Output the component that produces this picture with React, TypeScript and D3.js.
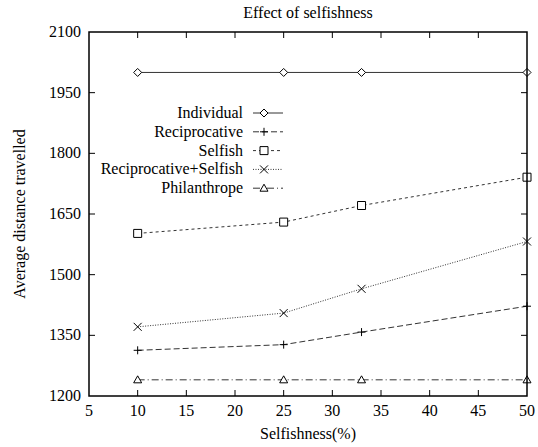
import * as d3 from "d3";

const xValues = [10, 25, 33, 50];
const seriesNames = ["Individual", "Reciprocative", "Selfish", "Reciprocative+Selfish", "Philanthrope"];
const individual = [2000, 2000, 2000, 2000];
const reciprocative = [1313, 1327, 1358, 1422];
const selfish = [1602, 1630, 1671, 1741];
const recipSelfish = [1371, 1405, 1465, 1582];
const philanthrope = [1240, 1240, 1240, 1240];
const xTicks = [5, 10, 15, 20, 25, 30, 35, 40, 45, 50];
const yTicks = [1200, 1350, 1500, 1650, 1800, 1950, 2100];

const width = 538;
const height = 447;
const M = { top: 32, right: 11, bottom: 51, left: 89 };
const font = "Liberation Serif";
const lineColor = "#333";

const x = d3.scaleLinear().domain([5, 50]).range([M.left, width - M.right]);
const y = d3.scaleLinear().domain([1200, 2100]).range([height - M.bottom, M.top]);

const series = [
  { name: seriesNames[0], values: individual, dash: undefined, marker: "diamond" },
  { name: seriesNames[1], values: reciprocative, dash: "6,3", marker: "plus" },
  { name: seriesNames[2], values: selfish, dash: "3,3", marker: "square" },
  { name: seriesNames[3], values: recipSelfish, dash: "1,1.5", marker: "cross" },
  { name: seriesNames[4], values: philanthrope, dash: "7,3,1,3", marker: "triangle" },
];

const line = d3.line<number>()
  .x((d, i) => x(xValues[i]))
  .y(d => y(d));

function Marker({ type, cx, cy }: { type: string; cx: number; cy: number }) {
  const s = 4;
  let d = "";
  if (type === "diamond") d = `M${cx},${cy - s}L${cx + s},${cy}L${cx},${cy + s}L${cx - s},${cy}Z`;
  else if (type === "plus") d = `M${cx - s},${cy}H${cx + s}M${cx},${cy - s}V${cy + s}`;
  else if (type === "square") d = `M${cx - s},${cy - s}H${cx + s}V${cy + s}H${cx - s}Z`;
  else if (type === "cross") d = `M${cx - s},${cy - s}L${cx + s},${cy + s}M${cx + s},${cy - s}L${cx - s},${cy + s}`;
  else if (type === "triangle") d = `M${cx},${cy - s}L${cx + s},${cy + s * 0.75}L${cx - s},${cy + s * 0.75}Z`;
  const open = type === "plus" || type === "cross";
  return <path d={d} fill={open ? "none" : "#fff"} stroke="#000" strokeWidth={1} />;
}

export default function App() {
  const tickLen = 6;
  const cx = (M.left + width - M.right) / 2;
  const ts = { fontFamily: font, fontSize: "16px" };
  return (
    <svg width={width} height={height}
      style={{ position: "absolute", left: 0, top: 0, background: "#fff", fontFamily: font, fontSize: "16px" }}>
      {series.map(s => (
        <g key={s.name}>
          <path d={line(s.values) || ""} fill="none" stroke={lineColor} strokeWidth={1} strokeDasharray={s.dash} />
          {s.values.map((v, i) => <Marker key={i} type={s.marker} cx={x(xValues[i])} cy={y(v)} />)}
        </g>
      ))}

      <rect x={M.left} y={M.top} width={width - M.left - M.right} height={height - M.top - M.bottom}
        fill="none" stroke="#000" strokeWidth={1.5} />

      <g stroke="#000" strokeWidth={1}>
        {xTicks.slice(1, -1).map(t => (
          <g key={t}>
            <line x1={x(t)} x2={x(t)} y1={y(1200)} y2={y(1200) - tickLen} />
            <line x1={x(t)} x2={x(t)} y1={y(2100)} y2={y(2100) + tickLen} />
          </g>
        ))}
        {yTicks.slice(1, -1).map(t => (
          <g key={t}>
            <line x1={x(5)} x2={x(5) + tickLen} y1={y(t)} y2={y(t)} />
            <line x1={x(50)} x2={x(50) - tickLen} y1={y(t)} y2={y(t)} />
          </g>
        ))}
      </g>

      {xTicks.map(t => (
        <text key={t} style={ts} x={x(t)} y={y(1200) + 20} textAnchor="middle">{t}</text>
      ))}
      {yTicks.map(t => (
        <text key={t} style={ts} x={M.left - 8} y={y(t) + 5} textAnchor="end">{t}</text>
      ))}

      <text style={ts} x={cx} y={439} textAnchor="middle">Selfishness(%)</text>
      <text style={ts} x={cx} y={18} textAnchor="middle">Effect of selfishness</text>
      <text style={ts} transform={`translate(25,${(M.top + height - M.bottom) / 2}) rotate(-90)`} textAnchor="middle">
        Average distance travelled
      </text>

      {series.map((s, i) => {
        const ly = 113 + i * 18.8;
        return (
          <g key={s.name}>
            <text style={ts} x={243} y={ly + 5} textAnchor="end">{s.name}</text>
            <line x1={253} x2={283} y1={ly} y2={ly} stroke={lineColor} strokeWidth={1} strokeDasharray={s.dash} />
            <Marker type={s.marker} cx={264} cy={ly} />
          </g>
        );
      })}
    </svg>
  );
}
